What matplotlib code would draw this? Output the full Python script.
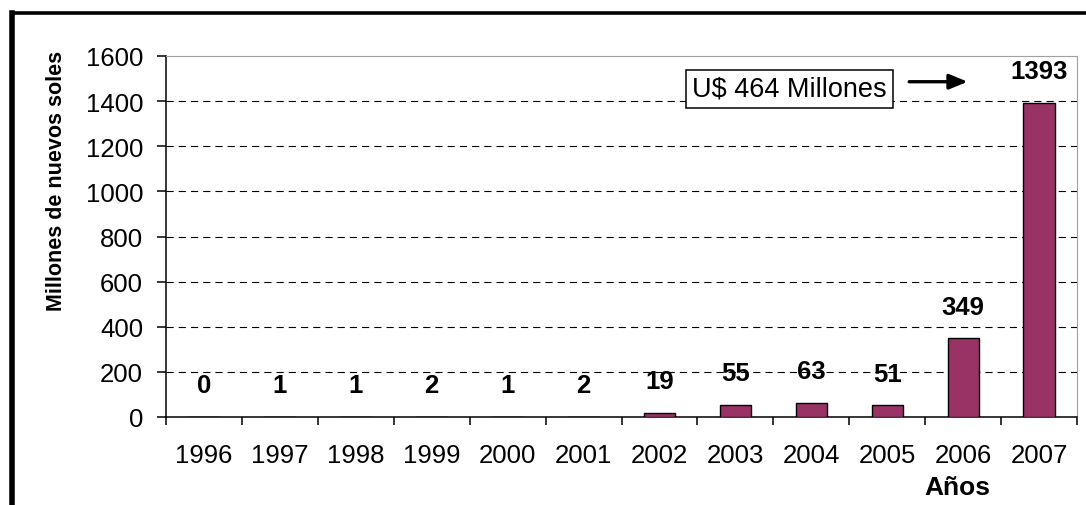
import numpy as np
import matplotlib
matplotlib.use("Agg")
import matplotlib.pyplot as plt
from matplotlib.lines import Line2D

plt.rcParams["font.family"] = ["Liberation Sans", "DejaVu Sans"]

# data
years = ["1996", "1997", "1998", "1999", "2000", "2001",
         "2002", "2003", "2004", "2005", "2006", "2007"]
values = [0, 1, 1, 2, 1, 2, 19, 55, 63, 51, 349, 1393]
y_ticks = [0, 200, 400, 600, 800, 1000, 1200, 1400, 1600]
note_text = "U$ 464 Millones"

bar_color = "#993366"

fig = plt.figure(figsize=(10.86, 5.06), dpi=100)
fig.patch.set_facecolor("white")
ax = fig.add_axes([166 / 1086, 1 - 418 / 506, (1077 - 166) / 1086, (418 - 57) / 506])

x = np.arange(len(years))
bars = ax.bar(x, values, width=0.41, color=bar_color, edgecolor="black",
              linewidth=1.0, zorder=3)

# value labels, fixed offset above each bar
for xi, v in zip(x, values):
    ax.annotate(str(v), (xi, v), xytext=(0, 22.7), textcoords="offset points",
                ha="center", va="center", fontsize=18.5, fontweight="bold",
                zorder=4)

ax.set_xlim(-0.5, len(years) - 0.5)
ax.set_ylim(0, 1600)

# y axis
ax.set_yticks(y_ticks)
ax.set_yticklabels([str(t) for t in y_ticks])
ax.tick_params(axis="y", direction="out", length=6.5, width=1.1, pad=10,
               labelsize=18.5)

# x axis: labels at centers, ticks at category boundaries
ax.set_xticks(x)
ax.set_xticklabels(years)
ax.set_xticks(np.arange(len(years) + 1) - 0.5, minor=True)
ax.tick_params(axis="x", which="major", length=0, pad=19, labelsize=18.5)
ax.tick_params(axis="x", which="minor", direction="out", length=5.8, width=1.1)

# dashed gridlines, none at the top edge
ax.set_axisbelow(True)
ax.yaxis.grid(True, color="black", linewidth=0.8, linestyle=(0, (6.5, 4.5)))
gl = ax.get_ygridlines()
gl[0].set_visible(False)
gl[-1].set_visible(False)

for side in ["left", "bottom"]:
    ax.spines[side].set_color("black")
    ax.spines[side].set_linewidth(1.1)
for side in ["top", "right"]:
    ax.spines[side].set_color("#a0a0a0")
    ax.spines[side].set_linewidth(0.8)

# boxed note with arrow pointing at last bar
ax.text(7.71, 1454, note_text, ha="center", va="center", fontsize=19.5,
        bbox=dict(boxstyle="square,pad=0.22", facecolor="white",
                  edgecolor="black", linewidth=1.1), zorder=5)
ax.annotate("", xy=(10.06, 1486), xytext=(9.29, 1486),
            arrowprops=dict(arrowstyle="-|>,head_length=1.1,head_width=0.45",
                            color="black", linewidth=2.4,
                            shrinkA=0, shrinkB=0), zorder=5)

fig.text(57 / 1086, 1 - 181 / 506, "Millones de nuevos soles", rotation=90,
         ha="center", va="center", fontsize=15.5, fontweight="bold")
fig.text(957 / 1086, 1 - 488 / 506, "Años", ha="center", va="center",
         fontsize=19, fontweight="bold")

# outer black frame (cut off on right and bottom)
fx = 12 / 1086
fy = 1 - 14.3 / 506
fig.add_artist(Line2D([fx, fx], [-0.1, fy], transform=fig.transFigure,
                      color="black", linewidth=4.0, solid_capstyle="projecting"))
fig.add_artist(Line2D([fx, 1.1], [fy, fy], transform=fig.transFigure,
                      color="black", linewidth=2.6, solid_capstyle="projecting"))

fig.savefig("out.png", dpi=100, facecolor="white")
